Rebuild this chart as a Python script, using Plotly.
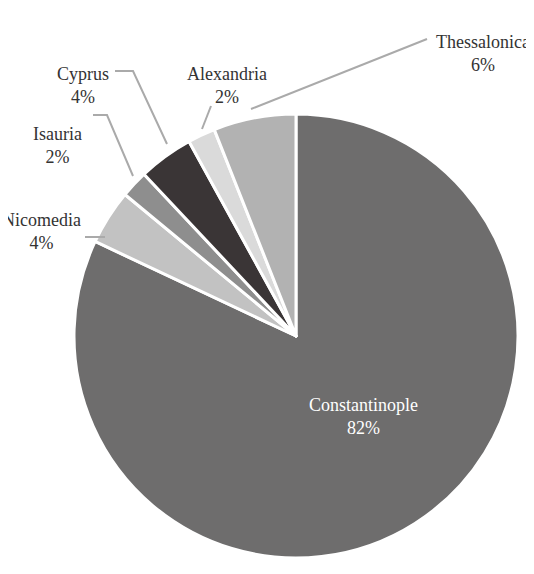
import plotly.graph_objects as go

W, H = 534, 574

cities = ["Constantinople", "Nicomedia", "Isauria", "Cyprus", "Alexandria", "Thessalonica"]
shares = [82, 4, 2, 4, 2, 6]
colors = ["#6e6d6d", "#c2c2c2", "#8e8e8e", "#3a3536", "#dadada", "#b2b2b2"]

# outside label positions (pixels) and leader lines
label_pos = {
    "Nicomedia": (40, 230), "Isauria": (56, 144), "Cyprus": (82, 84),
    "Alexandria": (226, 84), "Thessalonica": (482, 52),
}
leaders = {
    "Nicomedia": [(84, 236), (104, 236)],
    "Isauria": [(92, 114), (106, 114), (132, 175)],
    "Cyprus": [(114, 70), (132, 70), (166, 143)],
    "Alexandria": [(210, 105), (201, 128)],
    "Thessalonica": [(426, 38), (250, 108)],
}

def px(x, y):
    return (x - 7) / W, 1 - (y - 7) / H

fig = go.Figure(go.Pie(
    labels=cities, values=shares, sort=False, direction="clockwise", rotation=0,
    marker=dict(colors=colors, line=dict(color="white", width=3)),
    textinfo="none", hoverinfo="label+percent",
    domain=dict(x=[66 / W, 510 / W], y=[1 - 550 / H, 1 - 106 / H]),
    showlegend=False,
))

font = dict(family="Liberation Serif, serif", size=18, color="#333333")
ann = []
for c, s in zip(cities, shares):
    if c == "Constantinople":
        x, y = px(362, 415)
        ann.append(dict(x=x, y=y, text=f"{c}<br>{s}%", showarrow=False,
                        font=dict(font, color="white"), xref="paper", yref="paper",
                        xanchor="center", yanchor="middle"))
        continue
    x, y = px(*label_pos[c])
    ann.append(dict(x=x, y=y, text=f"{c}<br>{s}%", showarrow=False, font=font,
                    xref="paper", yref="paper", xanchor="center", yanchor="middle"))

shapes = []
for c, pts in leaders.items():
    path = "M " + " L ".join(f"{a},{b}" for a, b in (px(*p) for p in pts))
    shapes.append(dict(type="path", path=path, xref="paper", yref="paper",
                       line=dict(color="#aaaaaa", width=2)))

fig.update_layout(width=W, height=H, margin=dict(l=0, r=0, t=0, b=0),
                  paper_bgcolor="white", annotations=ann, shapes=shapes)
fig.write_html("out.html")
